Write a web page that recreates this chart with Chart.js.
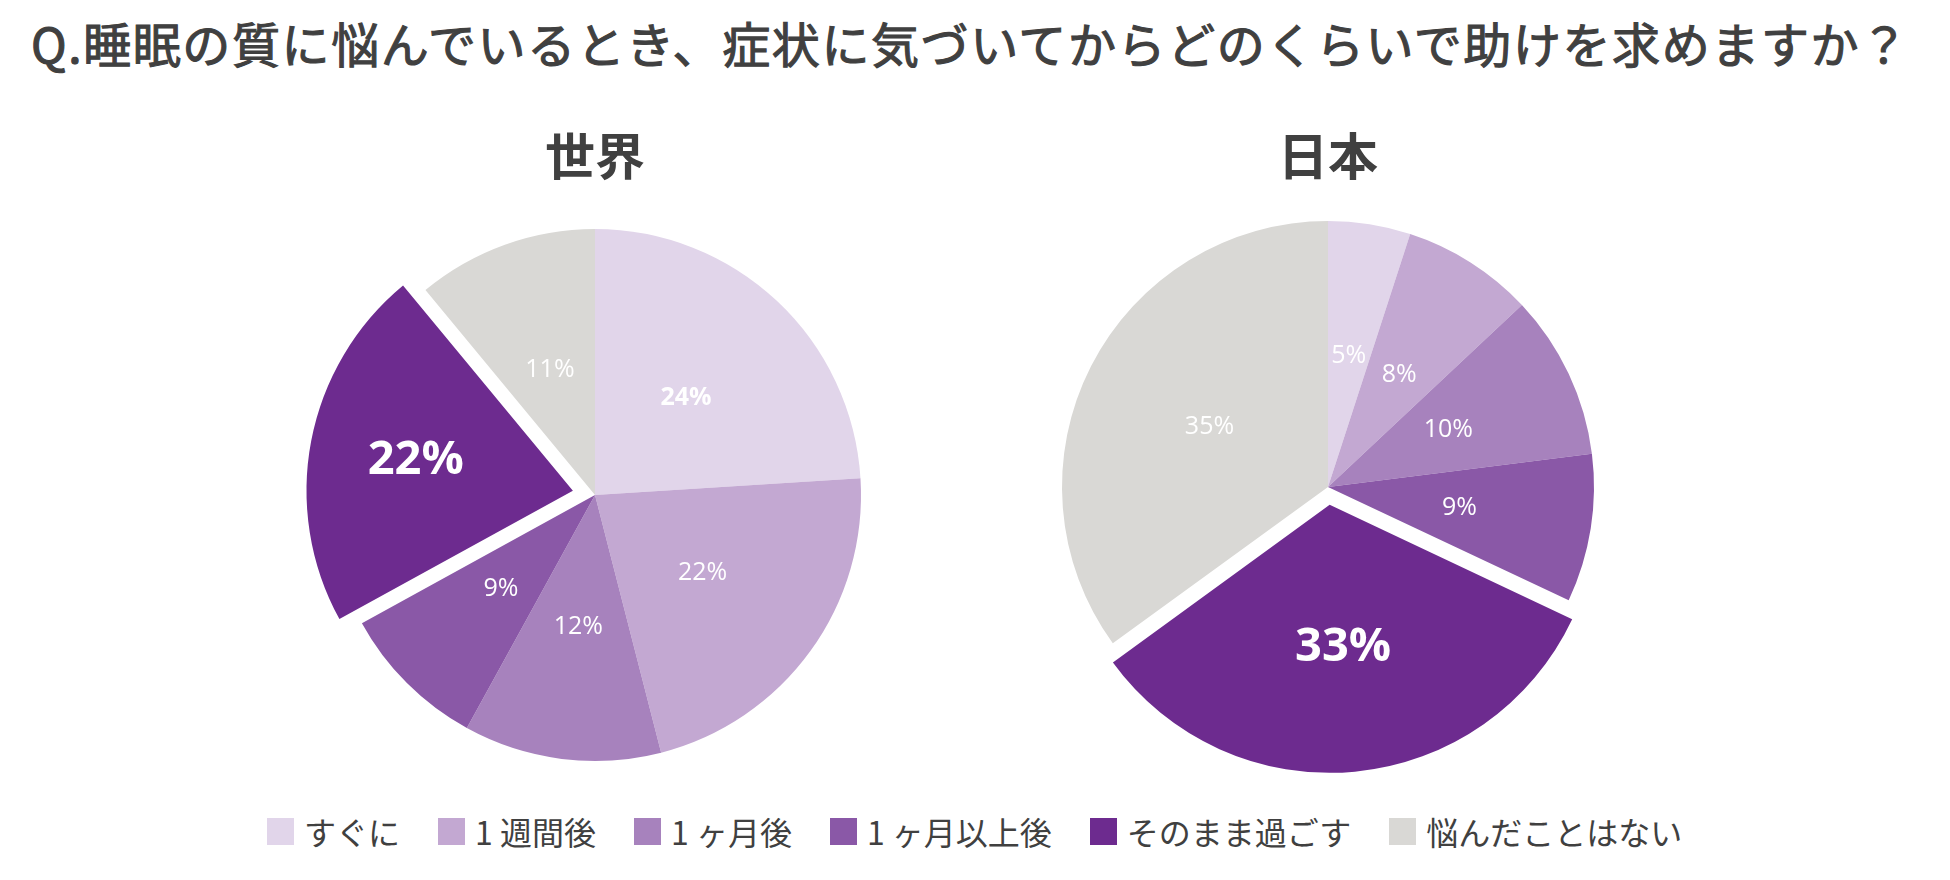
<!DOCTYPE html>
<html lang="ja">
<head>
<meta charset="utf-8">
<script src="https://cdn.jsdelivr.net/npm/chart.js@4/dist/chart.umd.min.js"></script>
<style>
html,body{margin:0;padding:0;background:#fff;}
body{width:1950px;height:880px;position:relative;overflow:hidden;font-family:"Noto Sans CJK JP",sans-serif;color:#404040;}
#title{position:absolute;left:31px;top:16px;font-size:48px;line-height:52px;font-weight:400;-webkit-text-stroke:1.1px #404040;letter-spacing:1.6px;white-space:nowrap;color:#404040;}
.pie{position:absolute;top:110px;width:700px;}
#legend{position:absolute;left:267px;top:811px;display:flex;align-items:center;white-space:nowrap;}
.item{display:flex;align-items:center;margin-right:38px;font-size:32px;line-height:40px;color:#404040;}
.sw{width:27px;height:27px;margin-right:10px;flex:none;}
</style>
</head>
<body>
<div id="title"></div>
<div class="pie" style="left:245px;height:694px"><canvas id="c1"></canvas></div>
<div class="pie" style="left:978px;height:678px"><canvas id="c2"></canvas></div>
<div id="legend"></div>
<script>
// ---- data ----
const titleText = "Q.睡眠の質に悩んでいるとき、症状に気づいてからどのくらいで助けを求めますか？";
const categories = ["すぐに", "1 週間後", "1 ヶ月後", "1 ヶ月以上後", "そのまま過ごす", "悩んだことはない"];
const worldTitle = "世界";
const japanTitle = "日本";
const worldValues = [24, 22, 12, 9, 22, 11];
const japanValues = [5, 8, 10, 9, 33, 35];
const highlightIndex = 4;

// ---- style ----
const colors = ["#E1D5EA", "#C3A8D2", "#A782BD", "#8A58A7", "#6D2B8F", "#D9D8D5"];
const textColor = "#404040";

document.getElementById("title").textContent = titleText;

const legendEl = document.getElementById("legend");
categories.forEach((c, i) => {
  const it = document.createElement("div");
  it.className = "item";
  const sw = document.createElement("span");
  sw.className = "sw";
  sw.style.background = colors[i];
  const tx = document.createElement("span");
  tx.textContent = c;
  it.appendChild(sw);
  it.appendChild(tx);
  legendEl.appendChild(it);
});

const pctLabels = {
  id: "pctLabels",
  afterDatasetsDraw(chart, args, opts) {
    const ctx = chart.ctx;
    const meta = chart.getDatasetMeta(0);
    const data = chart.data.datasets[0].data;
    meta.data.forEach((arc, i) => {
      const p = arc.getProps(["x", "y", "startAngle", "endAngle", "outerRadius", "circumference"], true);
      const off = (arc.options.offset || 0) / 4;
      const fix = 1 - Math.sin(Math.min(Math.PI, p.circumference || 0));
      const shift = off * (1 + fix);
      const mid = (p.startAngle + p.endAngle) / 2;
      const big = i === opts.highlight;
      const d = shift + p.outerRadius * (big ? opts.bigFactor : 0.5);
      const x = p.x + Math.cos(mid) * d;
      const y = p.y + Math.sin(mid) * d;
      ctx.save();
      ctx.fillStyle = "#ffffff";
      ctx.textAlign = "center";
      ctx.textBaseline = "middle";
      const w = big ? "bold" : (opts.weights[i] || "normal");
      const s = big ? 47 : 25;
      ctx.font = w + " " + s + "px 'Open Sans', 'Noto Sans', sans-serif";
      ctx.fillText(data[i] + "%", x, y);
      ctx.restore();
    });
  }
};

function makePie(id, title, values, offsetPx, bigFactor, weights) {
  return new Chart(document.getElementById(id), {
    type: "pie",
    data: {
      labels: categories,
      datasets: [{
        data: values,
        backgroundColor: colors,
        borderWidth: 0,
        offset: values.map((v, i) => i === highlightIndex ? offsetPx : 0)
      }]
    },
    options: {
      responsive: true,
      maintainAspectRatio: false,
      animation: false,
      radius: 266,
      layout: { padding: 0 },
      events: [],
      plugins: {
        legend: { display: false },
        tooltip: { enabled: false },
        title: {
          display: true,
          text: title,
          color: textColor,
          font: { family: "'Noto Sans CJK JP', sans-serif", size: 50, weight: "bold", lineHeight: 1.2 },
          padding: { top: 16, bottom: 0 }
        },
        pctLabels: { highlight: highlightIndex, bigFactor: bigFactor, weights: weights }
      }
    },
    plugins: [pctLabels]
  });
}

makePie("c1", worldTitle, worldValues, 90, 0.6, ["bold", "normal", "normal", "normal", "bold", "normal"]);
makePie("c2", japanTitle, japanValues, 71, 0.53, ["normal", "normal", "normal", "normal", "bold", "normal"]);
</script>
</body>
</html>
